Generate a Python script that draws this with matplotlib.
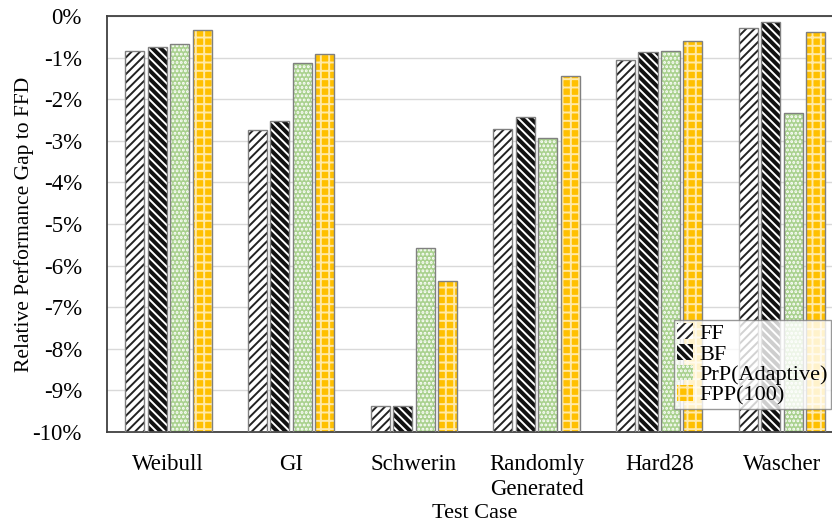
import numpy as np
import matplotlib.pyplot as plt
from matplotlib.patches import Patch
from matplotlib.ticker import FuncFormatter

# ── Data (relative gap to FFD, in %) ───────────────────────────────────
categories = ['Weibull', 'GI', 'Schwerin', 'Randomly\nGenerated', 'Hard28', 'Wascher']
ff = [-0.83, -2.74, -9.37, -2.71, -1.07, -0.28]
bf = [-0.74, -2.53, -9.37, -2.43, -0.87, -0.15]
prp = [-0.68, -1.13, -5.58, -2.94, -0.83, -2.34]
fpp = [-0.34, -0.92, -6.36, -1.45, -0.61, -0.39]
series_names = ['FF', 'BF', 'PrP(Adaptive)', 'FPP(100)']

# face colour, hatch colour, hatch pattern
styles = [
    ('white', '#222222', '////'),
    ('#111111', 'white', '\\\\\\\\'),
    ('#a9d18e', 'white', '....'),
    ('#ffc000', '#ffe9a8', '++'),
]

plt.rcParams['font.family'] = ['Liberation Serif', 'DejaVu Serif']
plt.rcParams['hatch.linewidth'] = 1.4

fig = plt.figure(figsize=(8.32, 5.24), dpi=100)
ax = fig.add_axes([0.1286, 0.1756, 0.885, 0.7939])

x = np.arange(len(categories))
width = 0.155
pitch = 0.183
base = -10  # bars rise from the bottom of the axis, as in the original
all_series = [ff, bf, prp, fpp]

for i, (vals, (fc, hc, hatch)) in enumerate(zip(all_series, styles)):
    pos = x + (i - 1.5) * pitch
    heights = np.array(vals) - base
    ax.bar(pos, heights, width, bottom=base, color=fc, edgecolor=hc, hatch=hatch,
           linewidth=0, zorder=2)
    ax.bar(pos, heights, width, bottom=base, facecolor='none', edgecolor='#808080',
           linewidth=1.0, zorder=3)

ax.set_ylim(-10, 0)
ax.set_xlim(-0.5, len(categories) - 0.5)
ax.set_yticks(np.arange(-10, 0.5, 1))
ax.yaxis.set_major_formatter(FuncFormatter(lambda v, p: f'{v:.0f}%'))
ax.set_xticks(x)
ax.set_xticklabels(categories, fontsize=16.5, linespacing=1.25)
ax.tick_params(axis='both', length=0, labelsize=16.5)
ax.tick_params(axis='x', pad=16)
ax.tick_params(axis='y', pad=18)
ax.grid(axis='y', color='#d9d9d9', linewidth=1, zorder=0)
ax.set_axisbelow(True)
for s in ax.spines.values():
    s.set_color('#404040')
    s.set_linewidth(1.3)

ax.set_xlabel('Test Case', fontsize=16, labelpad=3)
ax.set_ylabel('Relative Performance Gap to FFD', fontsize=15.5, labelpad=-1)

handles = [Patch(facecolor=fc, edgecolor=hc, hatch=h, linewidth=0) for fc, hc, h in styles]
leg = ax.legend(handles, series_names, loc='upper left', bbox_to_anchor=(0.770, 0.269),
                fontsize=16, frameon=True, fancybox=False, edgecolor='#808080',
                handlelength=0.7, handleheight=0.7, handletextpad=0.3,
                borderpad=0.15, labelspacing=0.0, borderaxespad=0)
leg.get_frame().set_linewidth(1.0)

fig.savefig('out.png', dpi=100)
